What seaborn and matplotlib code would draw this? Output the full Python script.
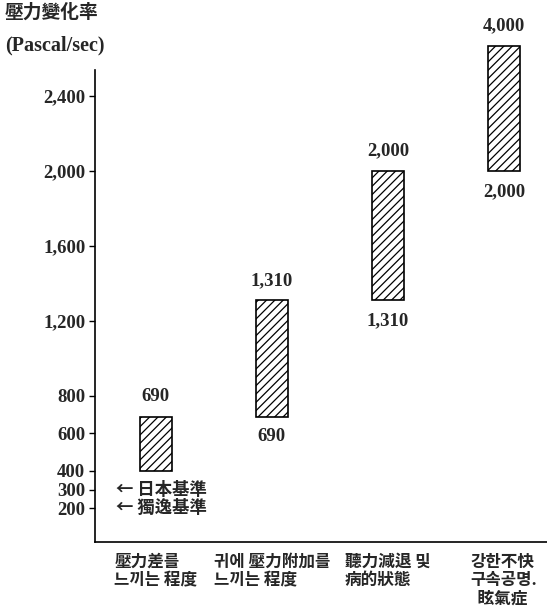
import matplotlib
matplotlib.use("Agg")
import matplotlib.pyplot as plt
import seaborn as sns
import pandas as pd

# ---- data ----
categories = [
    "壓力差를\n느끼는 程度",
    "귀에 壓力附加를\n느끼는 程度",
    "聽力減退 및\n病的狀態",
    "강한不快\n구속공명.\n  眩氣症",
]
lows = [400, 690, 1310, 2000]
highs = [690, 1310, 2000, 4000]
show_low_label = [False, True, True, True]
yticks = [200, 300, 400, 600, 800, 1200, 1600, 2000, 2400]
standards = ["日本基準", "獨逸基準"]
standard_values = [300, 200]
y_title = "壓力變化率"
y_unit = "(Pascal/sec)"

# ---- layout constants ----
DISPLAY_CAP = 2667  # axis is broken above this; taller bars are truncated here
sns.set_theme(style="white")
CJK = ["Noto Sans CJK KR", "DejaVu Sans"]
SERIF = ["Liberation Serif", "DejaVu Serif"]
plt.rcParams["font.family"] = CJK
plt.rcParams["hatch.linewidth"] = 0.9

fig = plt.figure(figsize=(5.47, 6.15), dpi=100)
ax = fig.add_axes([95 / 547, 1 - 542 / 615, 452 / 547, (542 - 70) / 615])

shown = [min(h, DISPLAY_CAP) for h in highs]
df = pd.DataFrame({
    "cat": categories,
    "height": [s - l for s, l in zip(shown, lows)],
})
sns.barplot(data=df, x="cat", y="height", order=categories, bottom=lows,
            color="white", edgecolor="black", linewidth=1.2, hatch="////",
            width=0.277, errorbar=None, clip_on=False, ax=ax)

ax.set_ylim(20, 2540)
ax.set_xlim(-0.524, 3.372)

# value labels
num_font = dict(family=SERIF, fontweight="bold", fontsize=13.5)
for i, (lo, hi, top, show) in enumerate(zip(lows, highs, shown, show_low_label)):
    ax.annotate(f"{hi:,}", xy=(i, top), xytext=(0, 14.5), textcoords="offset points",
                ha="center", va="center", annotation_clip=False, **num_font)
    if show:
        ax.annotate(f"{lo:,}", xy=(i, lo), xytext=(0, -14.5), textcoords="offset points",
                    ha="center", va="center", annotation_clip=False, **num_font)

# standard reference annotations
for name, v in zip(standards, standard_values):
    ax.text(-0.345, v, "← " + name, ha="left", va="center",
            fontsize=12.5, fontweight="bold", family=CJK)

# axes styling
ax.set_yticks(yticks)
ax.set_yticklabels([f"{t:,}" for t in yticks])
for lab in ax.get_yticklabels():
    lab.set_fontfamily(SERIF)
    lab.set_fontweight("bold")
    lab.set_fontsize(13.5)
ax.tick_params(axis="y", direction="out", length=4, width=1, pad=3, color="black", left=True)
ax.tick_params(axis="x", length=0, pad=8)
ax.set_xticks(range(len(categories)))
ax.set_xticklabels(categories)
for lab in ax.get_xticklabels():
    lab.set_fontfamily(CJK)
    lab.set_fontweight("bold")
    lab.set_fontsize(12)
    lab.set_multialignment("left")
    lab.set_linespacing(1.0)
    lab.set_va("top")
ax.set_xlabel("")
ax.set_ylabel("")
for s in ["top", "right"]:
    ax.spines[s].set_visible(False)
for s in ["left", "bottom"]:
    ax.spines[s].set_color("black")
    ax.spines[s].set_linewidth(1.2)

fig.text(5 / 547, 1 - 12 / 615, y_title, ha="left", va="center",
         fontsize=13.5, fontweight="bold", family=CJK)
fig.text(5 / 547, 1 - 45 / 615, y_unit, ha="left", va="center",
         fontsize=14.5, fontweight="bold", family=SERIF)

fig.savefig("out.png", dpi=100, facecolor="white")
